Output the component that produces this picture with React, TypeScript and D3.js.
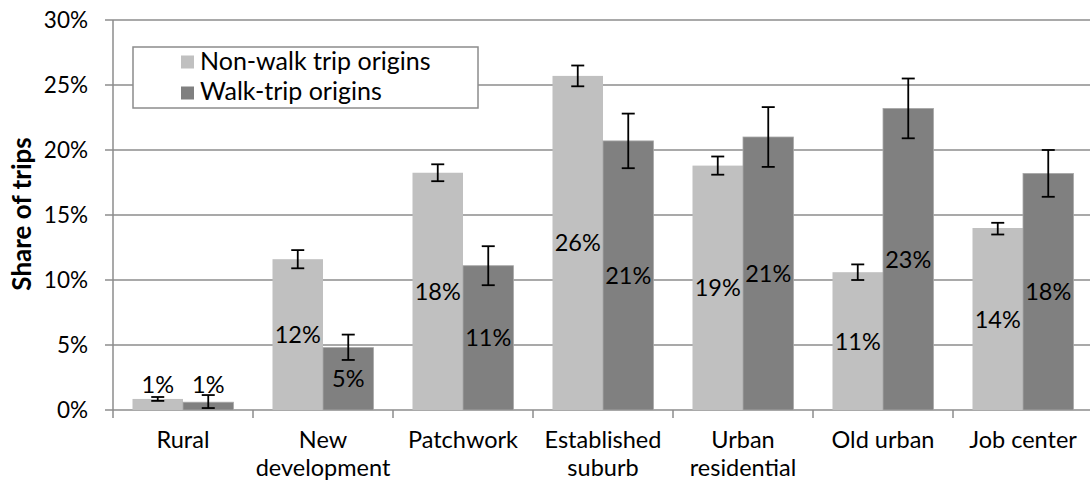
import React from "react";
import * as d3 from "d3";

const categories = ["Rural", "New\ndevelopment", "Patchwork", "Established\nsuburb", "Urban\nresidential", "Old urban", "Job center"];
const seriesNames = ["Non-walk trip origins", "Walk-trip origins"];
const nonWalk = [0.0085, 0.116, 0.1825, 0.257, 0.188, 0.106, 0.140];
const nonWalkLo = [0.007, 0.109, 0.176, 0.249, 0.181, 0.100, 0.135];
const nonWalkHi = [0.010, 0.123, 0.189, 0.265, 0.195, 0.112, 0.144];
const walk = [0.006, 0.048, 0.111, 0.207, 0.210, 0.232, 0.182];
const walkLo = [0.0015, 0.0385, 0.096, 0.186, 0.187, 0.209, 0.164];
const walkHi = [0.0115, 0.058, 0.126, 0.228, 0.233, 0.255, 0.200];
const yTicks = [0, 0.05, 0.10, 0.15, 0.20, 0.25, 0.30];

const colors = ["#c0c0c0", "#808080"];
const FONT = "Lato, 'Open Sans', sans-serif";

export default function App() {
  const left = 113, right = 1093, top = 20, bottom = 410;
  const y = d3.scaleLinear().domain([0, 0.3]).range([bottom, top]);
  const x0 = d3.scaleBand<string>().domain(categories).range([left, right]).padding(0);
  const x1 = d3.scaleBand<string>().domain(seriesNames).range([0, x0.bandwidth()]).paddingInner(0).paddingOuter(0.386);
  const fmt = d3.format(".0%");
  const series = [
    { name: seriesNames[0], vals: nonWalk, lo: nonWalkLo, hi: nonWalkHi },
    { name: seriesNames[1], vals: walk, lo: walkLo, hi: walkHi },
  ];
  const grid = "#8c8c8c";
  const boundaries = d3.range(categories.length + 1).map((i) => left + i * x0.step());

  return (
    <svg width={1090} height={489} style={{ position: "fixed", left: 0, top: 0, background: "#fff" }} fontFamily={FONT}>
      <rect x={0} y={0} width={1090} height={489} fill="#fff" />
      {yTicks.map((t) => (
        <g key={t}>
          <line x1={left - 8} x2={right} y1={y(t)} y2={y(t)} stroke={grid} strokeWidth={1.5} />
          <text x={88} y={y(t) + 8} textAnchor="end" fontSize={22.5} fill="#000">{fmt(t)}</text>
        </g>
      ))}
      <line x1={left} x2={left} y1={top} y2={bottom} stroke={grid} strokeWidth={1.5} />
      {boundaries.map((b, i) => (
        <line key={i} x1={b} x2={b} y1={bottom} y2={bottom + 8} stroke={grid} strokeWidth={1.5} />
      ))}
      {series.map((s, si) => (
        <g key={s.name}>
          {categories.map((c, ci) => {
            const bx = (x0(c) as number) + (x1(s.name) as number);
            const bw = x1.bandwidth();
            const v = s.vals[ci];
            return (
              <rect key={c} x={bx} y={y(v)} width={bw} height={y(0) - y(v)} fill={colors[si]} stroke={si === 1 ? "#a8a8a8" : "none"} strokeWidth={0.8} />
            );
          })}
        </g>
      ))}
      {series.map((s, si) => (
        <g key={s.name + "lab"}>
          {categories.map((c, ci) => {
            const bx = (x0(c) as number) + (x1(s.name) as number);
            const bw = x1.bandwidth();
            const v = s.vals[ci];
            const h = y(0) - y(v);
            const cy = h < 30 ? y(0) - 26 : (y(v) + y(0)) / 2;
            return (
              <text key={c} x={bx + bw / 2} y={cy + 8.5} textAnchor="middle" fontSize={23.5} fill="#000">{fmt(v)}</text>
            );
          })}
        </g>
      ))}
      {series.map((s, si) => (
        <g key={s.name + "err"} stroke="#000" strokeWidth={1.8}>
          {categories.map((c, ci) => {
            const cx = (x0(c) as number) + (x1(s.name) as number) + x1.bandwidth() / 2;
            const y1 = y(s.hi[ci]);
            const y2 = y(s.lo[ci]);
            return (
              <g key={c}>
                <line x1={cx} x2={cx} y1={y1} y2={y2} />
                <line x1={cx - 6.5} x2={cx + 6.5} y1={y1} y2={y1} />
                <line x1={cx - 6.5} x2={cx + 6.5} y1={y2} y2={y2} />
              </g>
            );
          })}
        </g>
      ))}
      {categories.map((c) => {
        const lines = c.split("\n");
        const cx = (x0(c) as number) + x0.bandwidth() / 2;
        return (
          <text key={c} x={cx} textAnchor="middle" fontSize={23.5} fill="#000">
            {lines.map((l, i) => (
              <tspan key={i} x={cx} y={448 + i * 28}>{l}</tspan>
            ))}
          </text>
        );
      })}
      <text transform={`translate(31,214) rotate(-90)`} textAnchor="middle" fontSize={26} fontWeight="bold" fill="#000">Share of trips</text>
      <g>
        <rect x={133} y={47} width={345} height={61} fill="#fff" stroke={grid} strokeWidth={1.5} />
        {seriesNames.map((n, i) => (
          <g key={n}>
            <rect x={181} y={55.5 + i * 31} width={13} height={13} fill={colors[i]} />
            <text x={200} y={70 + i * 30} fontSize={25} fill="#000">{n}</text>
          </g>
        ))}
      </g>
    </svg>
  );
}
